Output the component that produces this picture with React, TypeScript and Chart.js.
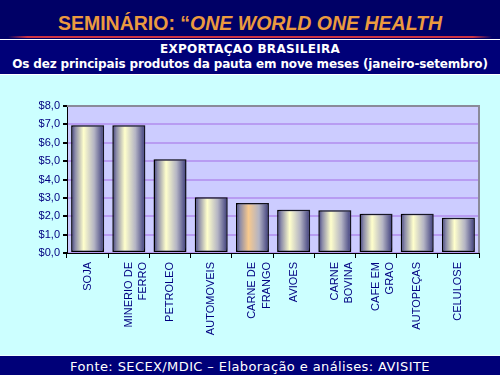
import React, { useEffect, useRef } from 'react';
import { Chart, registerables } from 'chart.js';

Chart.register(...registerables);

const TITLE_PLAIN = 'SEMINÁRIO: “';
const TITLE_ITALIC = 'ONE WORLD ONE HEALTH';
const SUBTITLE_1 = 'EXPORTAÇAO BRASILEIRA';
const SUBTITLE_2 = 'Os dez principais produtos da pauta em nove meses (janeiro-setembro)';
const FOOTER = 'Fonte: SECEX/MDIC – Elaboração e análises: AVISITE';

const CATEGORIES: string[][] = [
  ['SOJA'],
  ['MINERIO DE', 'FERRO'],
  ['PETROLEO'],
  ['AUTOMOVEIS'],
  ['CARNE DE', 'FRANGO'],
  ['AVIOES'],
  ['CARNE', 'BOVINA'],
  ['CAFE EM', 'GRAO'],
  ['AUTOPEÇAS'],
  ['CELULOSE'],
];
const VALUES = [6.95, 6.95, 5.1, 3.03, 2.72, 2.36, 2.32, 2.14, 2.14, 1.92];
const Y_MIN = 0;
const Y_MAX = 8;
const Y_STEP = 1;
const HIGHLIGHT_INDEX = 4;

const BAR_PCT = 0.8;

const plotFrame = {
  id: 'plotFrame',
  beforeDraw(chart: any) {
    const { ctx, chartArea } = chart;
    if (!chartArea) return;
    ctx.save();
    ctx.fillStyle = '#ccccff';
    ctx.fillRect(chartArea.left, chartArea.top, chartArea.right - chartArea.left, chartArea.bottom - chartArea.top);
    ctx.restore();
  },
  beforeDatasetsDraw(chart: any) {
    const { ctx } = chart;
    ctx.save();
    ctx.shadowColor = 'rgba(70,70,110,0.35)';
    ctx.shadowOffsetX = 2;
    ctx.shadowOffsetY = -2;
    ctx.shadowBlur = 2;
  },
  afterDatasetsDraw(chart: any) {
    chart.ctx.restore();
  },
  afterDraw(chart: any) {
    const { ctx, chartArea } = chart;
    if (!chartArea) return;
    ctx.save();
    ctx.strokeStyle = '#8a8a9a';
    ctx.lineWidth = 2;
    ctx.beginPath();
    ctx.moveTo(chartArea.left, chartArea.top);
    ctx.lineTo(chartArea.right, chartArea.top);
    ctx.lineTo(chartArea.right, chartArea.bottom);
    ctx.stroke();
    ctx.restore();
  },
};

function ChartCanvas() {
  const ref = useRef<HTMLCanvasElement | null>(null);
  useEffect(() => {
    if (!ref.current) return;
    const chart = new Chart(ref.current, {
      type: 'bar',
      data: {
        labels: CATEGORIES,
        datasets: [
          {
            data: VALUES,
            backgroundColor: (c: any) => {
              const ch = c.chart;
              const area = ch.chartArea;
              if (!area || !ch.scales.x) return '#ccccaa';
              const x = ch.scales.x.getPixelForValue(c.dataIndex);
              const w = ((area.right - area.left) / CATEGORIES.length) * BAR_PCT;
              const g = ch.ctx.createLinearGradient(x - w / 2, 0, x + w / 2, 0);
              const hi = c.dataIndex === HIGHLIGHT_INDEX ? '#f7c98e' : '#ffffcc';
              g.addColorStop(0, '#3c3c7a');
              g.addColorStop(0.12, '#8a8aa8');
              g.addColorStop(0.38, hi);
              g.addColorStop(0.7, '#b4b4c4');
              g.addColorStop(0.92, '#5a5a8e');
              g.addColorStop(1, '#353575');
              return g;
            },
            borderColor: '#000000',
            borderWidth: 1.5,
            borderSkipped: false,
            barPercentage: BAR_PCT,
            categoryPercentage: 1,
          },
        ],
      },
      options: {
        animation: false,
        responsive: false,
        maintainAspectRatio: false,
        layout: { padding: { top: 31, right: 21, left: 0, bottom: 0 } },
        plugins: { legend: { display: false }, tooltip: { enabled: false } },
        scales: {
          x: {
            grid: {
              display: true,
              drawOnChartArea: false,
              drawTicks: true,
              tickLength: 5,
              color: '#000000',
              offset: true,
            },
            border: { display: true, color: '#000000', width: 1 },
            ticks: {
              minRotation: 90,
              maxRotation: 90,
              autoSkip: false,
              color: '#000080',
              padding: 4,
              font: { family: '"Liberation Sans", Arial, sans-serif', size: 11, lineHeight: 1.3 },
            },
            afterFit: (s: any) => {
              s.height = 102;
            },
          },
          y: {
            min: Y_MIN,
            max: Y_MAX,
            ticks: {
              stepSize: Y_STEP,
              color: '#000080',
              padding: 3,
              font: { family: '"Liberation Sans", Arial, sans-serif', size: 11 },
              callback: (v: any) => '$' + Number(v).toFixed(1).replace('.', ','),
            },
            grid: {
              color: '#b89cf2',
              lineWidth: 2,
              tickColor: '#000000',
              tickLength: 4,
            },
            border: { display: true, color: '#000000', width: 1 },
            afterFit: (s: any) => {
              s.width = 67;
            },
          },
        },
      },
      plugins: [plotFrame],
    });
    return () => chart.destroy();
  }, []);
  return <canvas ref={ref} width={500} height={280} style={{ display: 'block', width: 500, height: 280 }} />;
}

export default function App() {
  useEffect(() => {
    document.body.style.margin = '0';
  }, []);
  const abs = (s: React.CSSProperties): React.CSSProperties => ({ position: 'absolute', ...s });
  return (
    <div style={{ position: 'fixed', left: 0, top: 0, width: 500, height: 375, background: '#ccffff', overflow: 'hidden' }}>
      <div style={abs({ left: 0, top: 0, width: 500, height: 39, background: '#000066' })} />
      <div
        style={abs({
          left: 0,
          top: 10,
          width: 500,
          textAlign: 'center',
          color: '#eb9a3f',
          fontFamily: '"Liberation Sans", Arial, sans-serif',
          fontWeight: 'bold',
          fontSize: 19.5,
          lineHeight: '26px',
          whiteSpace: 'nowrap',
        })}
      >
        {TITLE_PLAIN}
        <span style={{ fontStyle: 'italic' }}>{TITLE_ITALIC}</span>
      </div>
      <div
        style={abs({
          left: 8,
          top: 36,
          width: 484,
          height: 2,
          background: 'linear-gradient(to right, rgba(204,51,68,0), #cc3344 4%, #cc3344 96%, rgba(204,51,68,0))',
        })}
      />
      <div style={abs({ left: 0, top: 39, width: 500, height: 1, background: '#ffffff' })} />
      <div style={abs({ left: 0, top: 40, width: 500, height: 34, background: '#000078' })} />
      <div
        style={abs({
          left: 0,
          top: 42,
          width: 500,
          textAlign: 'center',
          color: '#ffffff',
          fontFamily: '"DejaVu Sans", Verdana, sans-serif',
          fontWeight: 'bold',
          fontSize: 12,
          lineHeight: '15px',
          whiteSpace: 'nowrap',
        })}
      >
        <div style={{ letterSpacing: '0.3px' }}>{SUBTITLE_1}</div>
        <div style={{ letterSpacing: '-0.15px' }}>{SUBTITLE_2}</div>
      </div>
      <div style={abs({ left: 0, top: 74, width: 500, height: 1, background: '#ffffff' })} />
      <div style={abs({ left: 0, top: 75, width: 500, height: 280 })}>
        <ChartCanvas />
      </div>
      <div style={abs({ left: 0, top: 355, width: 500, height: 1, background: '#eefeff' })} />
      <div style={abs({ left: 0, top: 356, width: 500, height: 19, background: '#000078' })} />
      <div
        style={abs({
          left: 0,
          top: 358,
          width: 500,
          textAlign: 'center',
          color: '#ffffff',
          fontFamily: '"DejaVu Sans", Verdana, sans-serif',
          fontSize: 13,
          letterSpacing: '0.4px',
          lineHeight: '17px',
          whiteSpace: 'nowrap',
        })}
      >
        {FOOTER}
      </div>
    </div>
  );
}
